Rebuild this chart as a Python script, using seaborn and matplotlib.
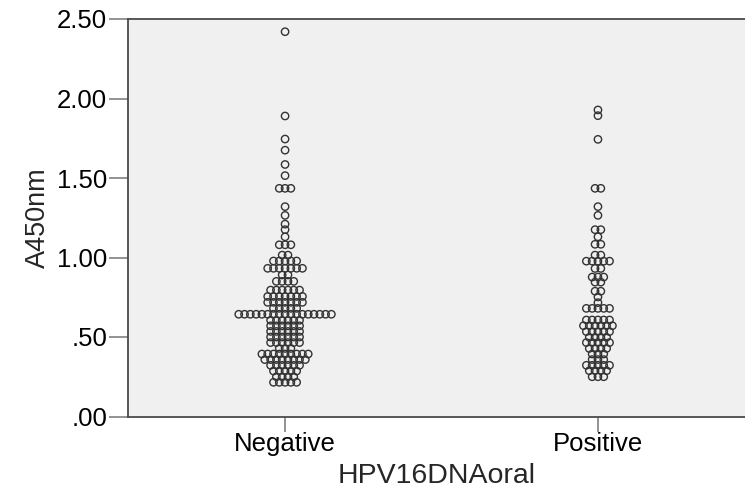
import numpy as np
import pandas as pd
import matplotlib
matplotlib.use("Agg")
import matplotlib.pyplot as plt
import seaborn as sns

# ---- data (binned dot plot rows: value, number of dots) ----
categories = ["Negative", "Positive"]

neg_rows = [2.42, 1.89, 1.745, 1.675, 1.585, 1.515, 1.435, 1.32, 1.265, 1.21, 1.175, 1.13,
            1.08, 1.015, 0.978, 0.932, 0.89, 0.85, 0.795, 0.755, 0.718, 0.68, 0.643,
            0.605, 0.57, 0.535, 0.50, 0.465, 0.428, 0.393, 0.358, 0.322, 0.286, 0.250, 0.215]
neg_counts = [1, 1, 1, 1, 1, 1, 3, 1, 1, 1, 1, 1,
              3, 2, 5, 7, 2, 4, 6, 7, 7, 5, 17,
              6, 6, 6, 6, 6, 3, 9, 8, 6, 5, 4, 5]

pos_rows = [1.928, 1.892, 1.743, 1.435, 1.32, 1.265, 1.175, 1.13, 1.083, 1.015, 0.977,
            0.931, 0.877, 0.845, 0.788, 0.752, 0.716, 0.68, 0.607, 0.571, 0.534, 0.498,
            0.465, 0.428, 0.393, 0.358, 0.322, 0.288, 0.25]
pos_counts = [1, 1, 1, 2, 1, 1, 2, 1, 2, 2, 5,
              2, 3, 2, 2, 1, 1, 5, 5, 6, 5, 4,
              5, 4, 3, 3, 5, 4, 3]

y_ticks = [0.0, 0.5, 1.0, 1.5, 2.0, 2.5]
y_tick_labels = [".00", ".50", "1.00", "1.50", "2.00", "2.50"]

x_label = "HPV16DNAoral"
y_label = "A450nm"


def dot_layout(rows, counts, center, step):
    """Classic dot-plot stacking: dots of a bin are centred side by side."""
    xs, ys = [], []
    for v, n in zip(rows, counts):
        for i in range(n):
            xs.append(center + (i - (n - 1) / 2) * step)
            ys.append(v)
    return xs, ys


step = 0.0185
frames = []
for k, (cat, rows, counts) in enumerate(zip(categories, [neg_rows, pos_rows], [neg_counts, pos_counts])):
    xs, ys = dot_layout(rows, counts, k, step)
    frames.append(pd.DataFrame({"pos": xs, "A450nm": ys, "group": cat}))
df = pd.concat(frames, ignore_index=True)

sns.set_style("white")
plt.rcParams["font.family"] = ["Liberation Sans", "DejaVu Sans"]

fig = plt.figure(figsize=(7.45, 4.97), dpi=100)
ax = fig.add_axes([128 / 745, 1 - 416.5 / 497, 1 - 128 / 745, (416.5 - 19) / 497])
ax.set_facecolor("#F0F0F0")

sns.scatterplot(data=df, x="pos", y="A450nm", marker="o", s=28,
                facecolor="none", edgecolor="#333333", linewidth=1.0,
                legend=False, ax=ax)
for c in ax.collections:
    c.set_facecolor("none")
    c.set_edgecolor("#333333")

ax.set_xlim(-0.502, 1.47)
ax.set_ylim(0, 2.5)
ax.set_yticks(y_ticks)
ax.set_yticklabels(y_tick_labels)
ax.set_xticks(range(len(categories)))
ax.set_xticklabels(categories)

for side in ["left", "bottom", "top"]:
    ax.spines[side].set_visible(True)
    ax.spines[side].set_color("#4a4a4a")
    ax.spines[side].set_linewidth(1.3)
ax.spines["right"].set_visible(False)

ax.tick_params(axis="both", which="major", left=True, bottom=True, direction="out",
               length=14, width=1.2, color="#808080",
               labelsize=18.5, labelcolor="black", pad=1)
ax.tick_params(axis="x", length=11, pad=0)

ax.set_xlabel(x_label, fontsize=20.5, labelpad=5)
ax.set_ylabel(y_label, fontsize=19.5, labelpad=4)

fig.savefig("out.png", dpi=100)
